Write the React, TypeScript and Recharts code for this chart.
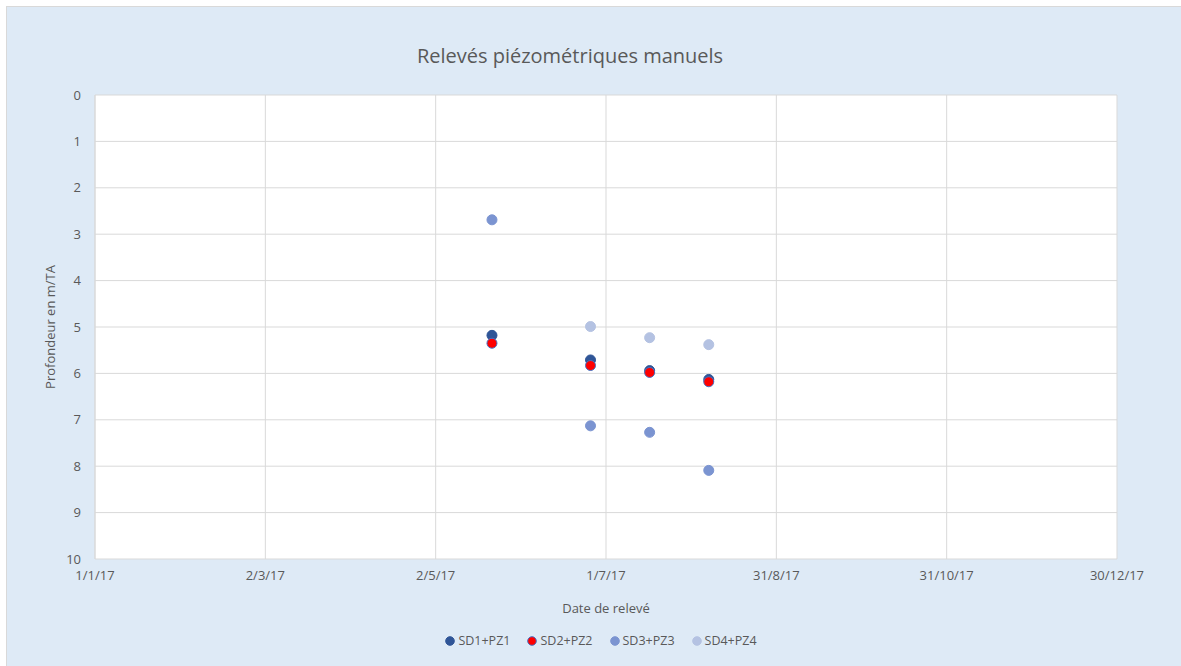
import React from 'react';
import {
  ScatterChart,
  Scatter,
  XAxis,
  YAxis,
  CartesianGrid,
  Legend,
  Label,
} from 'recharts';

// dates of the manual readings
const readingDates = ['2017-05-22', '2017-06-26', '2017-07-17', '2017-08-07'];

// depth in m/TA per piezometer, one value per reading date (null = no reading)
const sd1pz1 = [5.18, 5.71, 5.94, 6.13];
const sd2pz2 = [5.35, 5.83, 5.98, 6.18];
const sd3pz3 = [2.69, 7.13, 7.27, 8.09];
const sd4pz4 = [null, 4.99, 5.23, 5.38];

const xTickLabels = ['1/1/17', '2/3/17', '2/5/17', '1/7/17', '31/8/17', '31/10/17', '30/12/17'];
const xTicks = [0, 60.5, 121, 181.5, 242, 302.5, 363];
const yTicks = [0, 1, 2, 3, 4, 5, 6, 7, 8, 9, 10];

const FONT = '"Open Sans", Lato, sans-serif';
const TEXT = '#595959';
const GRID = '#D9D9D9';

const dayOfYear = (iso: string) =>
  (Date.parse(iso + 'T00:00:00Z') - Date.parse('2017-01-01T00:00:00Z')) / 86400000;

const toPoints = (values: (number | null)[]) =>
  readingDates
    .map((d, i) => ({ day: dayOfYear(d), depth: values[i] }))
    .filter((p) => p.depth !== null);

const series = [
  { name: 'SD1+PZ1', data: toPoints(sd1pz1), fill: '#2F5597', stroke: '#2F5597' },
  { name: 'SD2+PZ2', data: toPoints(sd2pz2), fill: '#FF0000', stroke: '#4472C4' },
  { name: 'SD3+PZ3', data: toPoints(sd3pz3), fill: '#7B94D1', stroke: '#7B94D1' },
  { name: 'SD4+PZ4', data: toPoints(sd4pz4), fill: '#B4C2E2', stroke: '#B4C2E2' },
];

const dot = (fill: string, stroke: string) => (props: any) => (
  <circle cx={props.cx} cy={props.cy} r={5} fill={fill} stroke={stroke} strokeWidth={1} />
);

const LegendContent = () => (
  <div style={{ display: 'flex', justifyContent: 'center', gap: 17, fontFamily: FONT, fontSize: 12.5, color: TEXT, lineHeight: '16px' }}>
    {series.map((s) => (
      <div key={s.name} style={{ display: 'flex', alignItems: 'center', gap: 3 }}>
        <svg width={10} height={10}>
          <circle cx={5} cy={5} r={4.3} fill={s.fill} stroke={s.stroke} strokeWidth={1} />
        </svg>
        <span>{s.name}</span>
      </div>
    ))}
  </div>
);

export default function App() {
  return (
    <div
      style={{
        position: 'absolute',
        left: 6,
        top: 6,
        width: 1175,
        height: 660,
        background: '#DEEAF6',
        borderTop: '1px solid #D9D9D9',
        borderLeft: '1px solid #D9D9D9',
        overflow: 'hidden',
      }}
    >
      <div
        style={{
          position: 'absolute',
          left: 0,
          width: 1126,
          top: 35,
          textAlign: 'center',
          fontFamily: FONT,
          fontSize: 20,
          color: TEXT,
        }}
      >
        Relevés piézométriques manuels
      </div>
      <ScatterChart width={1175} height={660} margin={{ top: 88, right: 65, bottom: 62, left: 28 }}>
        <CartesianGrid stroke={GRID} fill="#FFFFFF" />
        <XAxis
          type="number"
          dataKey="day"
          domain={[0, 363]}
          ticks={xTicks}
          interval={0}
          height={30}
          axisLine={false}
          tickLine={false}
          tickSize={6}
          tickMargin={6}
          tickFormatter={(_v: number, i: number) => xTickLabels[i]}
          tick={{ fill: TEXT, fontSize: 13, fontFamily: FONT }}
        >
          <Label value="Date de relevé" position="bottom" offset={15} style={{ fill: TEXT, fontSize: 13, fontFamily: FONT }} />
        </XAxis>
        <XAxis
          xAxisId="top"
          orientation="top"
          type="number"
          dataKey="day"
          domain={[0, 363]}
          ticks={xTicks}
          interval={0}
          height={0}
          tick={false}
          tickSize={5}
          tickLine={{ stroke: GRID }}
          axisLine={{ stroke: GRID }}
        />
        <YAxis
          type="number"
          dataKey="depth"
          domain={[0, 10]}
          ticks={yTicks}
          interval={0}
          reversed
          width={60}
          axisLine={{ stroke: GRID }}
          tickLine={false}
          tickSize={6}
          tickMargin={8}
          tick={{ fill: TEXT, fontSize: 13, fontFamily: FONT }}
        >
          <Label
            value="Profondeur en m/TA"
            angle={-90}
            position="insideLeft"
            offset={15}
            style={{ textAnchor: 'middle', fill: TEXT, fontSize: 13, fontFamily: FONT }}
          />
        </YAxis>
        <Legend
          content={<LegendContent />}
          wrapperStyle={{ position: 'absolute', left: 0, width: 1188, top: 626 }}
        />
        {series.map((s) => (
          <Scatter
            key={s.name}
            name={s.name}
            data={s.data}
            fill={s.fill}
            shape={dot(s.fill, s.stroke)}
            isAnimationActive={false}
          />
        ))}
      </ScatterChart>
    </div>
  );
}
